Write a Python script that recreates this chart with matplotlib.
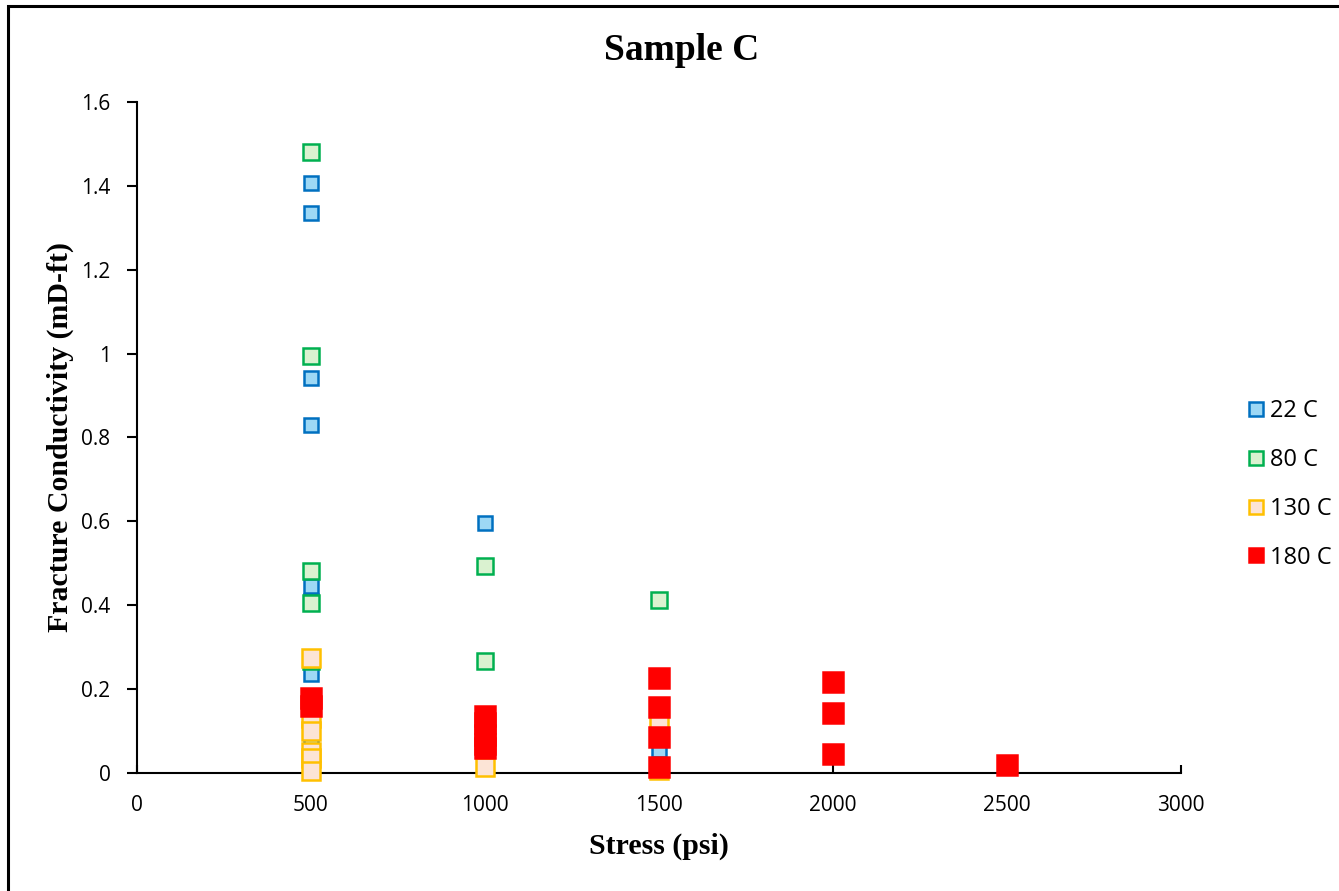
import matplotlib
matplotlib.use("Agg")
import matplotlib.pyplot as plt
from matplotlib.patches import Rectangle

# Data (stress psi, fracture conductivity mD-ft)
x22 = [500, 500, 500, 500, 500, 500, 500, 500, 1000, 1500]
y22 = [1.407, 1.335, 0.942, 0.830, 0.446, 0.41, 0.236, 0.079, 0.596, 0.055]

x80 = [500, 500, 500, 500, 500, 1000, 1000, 1500]
y80 = [1.481, 0.994, 0.482, 0.405, 0.268, 0.494, 0.267, 0.413]

x130 = [500, 500, 500, 500, 500, 500, 1000, 1500, 1500]
y130 = [0.274, 0.13, 0.10, 0.05, 0.035, 0.005, 0.015, 0.122, 0.008]

x180 = [500, 500, 1000, 1000, 1000, 1000, 1000, 1500, 1500, 1500, 1500, 2000, 2000, 2000, 2500]
y180 = [0.18, 0.16, 0.135, 0.12, 0.09, 0.07, 0.06, 0.227, 0.157, 0.086, 0.015, 0.217, 0.143, 0.045, 0.02]

series = [
    ("22 C", x22, y22, "#0070C0", "#9DD8F5", 9.5),
    ("80 C", x80, y80, "#00B050", "#DAF2D0", 11.5),
    ("130 C", x130, y130, "#FFC000", "#FCE4D6", 12.5),
    ("180 C", x180, y180, "#FF0000", "#FF0000", 14),
]

fig = plt.figure(figsize=(13.39, 8.91), dpi=100)
ax = fig.add_axes([137/1339, 118/891, (1181-137)/1339, (773-102)/891])

for label, xs, ys, ec, fc, ms in series:
    ax.plot(xs, ys, linestyle="none", marker="s", markersize=ms,
            markerfacecolor=fc, markeredgecolor=ec, markeredgewidth=1.8,
            label=label, clip_on=False, zorder=3)

ax.set_xlim(0, 3000)
ax.set_ylim(0, 1.6)
ax.set_xticks([0, 500, 1000, 1500, 2000, 2500, 3000])
ax.set_yticks([0, 0.2, 0.4, 0.6, 0.8, 1.0, 1.2, 1.4, 1.6])
ax.set_yticklabels(["0", "0.2", "0.4", "0.6", "0.8", "1", "1.2", "1.4", "1.6"])
for s in ["top", "right"]:
    ax.spines[s].set_visible(False)
for s in ["left", "bottom"]:
    ax.spines[s].set_linewidth(1.5)
ax.tick_params(axis="x", direction="in", length=6, width=1.5, pad=16,
               labelsize=15, labelfontfamily="Open Sans")
ax.tick_params(axis="y", direction="out", length=7, width=1.5, pad=12,
               labelsize=15, labelfontfamily="Open Sans")

ax.set_xlabel("Stress (psi)", fontsize=21.5, fontweight="bold",
              family="Liberation Serif", labelpad=12)
ax.set_ylabel("Fracture Conductivity (mD-ft)", fontsize=21.5, fontweight="bold",
              family="Liberation Serif", labelpad=5)
fig.text(682/1339, 1 - 50/891, "Sample C", ha="center", va="center",
         fontsize=27, fontweight="bold", family="Liberation Serif")

leg = ax.legend(loc="center left", bbox_to_anchor=(1.045, 0.43), frameon=False,
                prop={"family": "Open Sans", "size": 17}, handlelength=0.6,
                handletextpad=0.3, labelspacing=1.05)
for h in leg.legend_handles:
    h.set_markersize(10.5)

fig.add_artist(Rectangle((8/1339, -0.02), 1.02, 1 - 6/891 + 0.02,
                         transform=fig.transFigure, fill=False,
                         edgecolor="black", linewidth=2.2))

fig.savefig("out.png", dpi=100)
